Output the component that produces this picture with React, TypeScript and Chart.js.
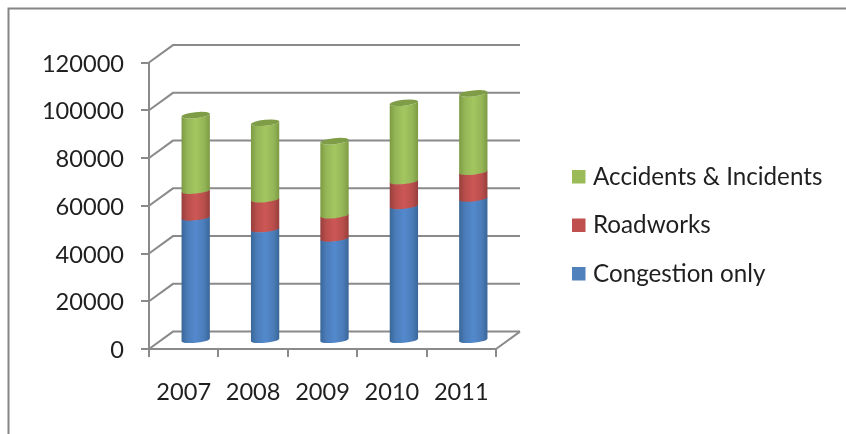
import React, { useEffect, useRef } from "react";
import { Chart, BarController, BarElement, registerables } from "chart.js";

const years = ["2007", "2008", "2009", "2010", "2011"];
const congestion = [51500, 46600, 42700, 56300, 59400];
const roadworks = [11200, 12500, 9700, 10400, 11200];
const accidents = [31600, 32000, 31000, 32800, 32800];

const BLUE = "#4f81bd";
const RED = "#c0504d";
const GREEN = "#9bbb59";
const AXIS_GREY = "#8a8a8a";
const TEXT = "#1f1f1f";
const FONT_FAMILY = "Lato";
const FONT_SIZE = 23.6;
const KEY_FONT_SIZE = 24.2;

// Edge, shoulder and centre tones of the cylinder shading for each series colour.
const SHADES: Record<string, string[]> = {
  [BLUE]: ["#3a6698", "#4a7cb8", "#5389cd"],
  [RED]: ["#963e3c", "#b84e4b", "#cc5755"],
  [GREEN]: ["#7c9a43", "#95b657", "#a4c660"],
};
const CAP_COLOR = "#7f9c46";

// Oblique depth of the floor and back wall.
const DEPTH_X = 24;
const DEPTH_Y = -17.4;
const CAP_RY = 3;
const CAP_TILT = -0.1;

class CylinderBar extends BarElement {
  static id = "cylinderBar";

  draw(ctx: CanvasRenderingContext2D) {
    const { x, y, base, width } = (this as any).getProps(["x", "y", "base", "width"]);
    const rx = width / 2;
    const tones = SHADES[(this as any).options.backgroundColor];
    const shade = ctx.createLinearGradient(x - rx, 0, x + rx, 0);
    shade.addColorStop(0, tones[0]);
    shade.addColorStop(0.2, tones[1]);
    shade.addColorStop(0.5, tones[2]);
    shade.addColorStop(0.8, tones[1]);
    shade.addColorStop(1, tones[0]);

    ctx.save();
    ctx.translate(DEPTH_X / 2, DEPTH_Y / 2);
    ctx.fillStyle = shade;
    ctx.beginPath();
    ctx.ellipse(x, base + 0.5, rx, CAP_RY, CAP_TILT, 0, Math.PI, false);
    ctx.ellipse(x, y, rx, CAP_RY, CAP_TILT, Math.PI, 0, true);
    ctx.closePath();
    ctx.fill();
    ctx.restore();
  }

  drawCap(ctx: CanvasRenderingContext2D) {
    const { x, y, width } = (this as any).getProps(["x", "y", "width"]);
    ctx.save();
    ctx.translate(DEPTH_X / 2, DEPTH_Y / 2);
    ctx.fillStyle = CAP_COLOR;
    ctx.beginPath();
    ctx.ellipse(x, y, width / 2, CAP_RY, CAP_TILT, 0, Math.PI * 2);
    ctx.fill();
    ctx.restore();
  }
}

class CylinderController extends BarController {
  static id = "cylinderBar";
  static defaults = { dataElementType: "cylinderBar" };
}

Chart.register(...registerables, CylinderBar, CylinderController);

// Outer frame: only the top and left edges are visible on the page.
const framePlugin = {
  id: "frame",
  beforeDraw(chart: any) {
    const { ctx, width, height } = chart;
    ctx.save();
    ctx.strokeStyle = "#868686";
    ctx.lineWidth = 2;
    ctx.beginPath();
    ctx.moveTo(8.5, height);
    ctx.lineTo(8.5, 8.5);
    ctx.lineTo(width, 8.5);
    ctx.stroke();
    ctx.restore();
  },
};

// Back wall gridlines, their diagonal returns to the front axis, and the floor edge.
const wallPlugin = {
  id: "wall",
  beforeDatasetsDraw(chart: any) {
    const { ctx, scales } = chart;
    const { left, right } = chart.chartArea;
    ctx.save();
    ctx.strokeStyle = AXIS_GREY;
    ctx.lineWidth = 2;
    for (const tick of scales.y.ticks) {
      const py = scales.y.getPixelForValue(tick.value);
      ctx.beginPath();
      ctx.moveTo(left, py);
      ctx.lineTo(left + DEPTH_X, py + DEPTH_Y);
      ctx.lineTo(right + DEPTH_X, py + DEPTH_Y);
      ctx.stroke();
    }
    const floor = scales.y.getPixelForValue(0);
    ctx.beginPath();
    ctx.moveTo(right, floor);
    ctx.lineTo(right + DEPTH_X, floor + DEPTH_Y);
    ctx.stroke();
    ctx.restore();
  },
  afterDatasetsDraw(chart: any) {
    const last = chart.data.datasets.length - 1;
    for (const bar of chart.getDatasetMeta(last).data) bar.drawCap(chart.ctx);
  },
};

// Right-hand key, listed from the top of the stack downwards.
const keyPlugin = {
  id: "key",
  afterDraw(chart: any) {
    const { ctx } = chart;
    const entries = [...chart.data.datasets].reverse();
    ctx.save();
    ctx.font = `${KEY_FONT_SIZE}px ${FONT_FAMILY}`;
    ctx.textBaseline = "middle";
    entries.forEach((ds: any, i: number) => {
      const cy = 176.5 + i * 48.5;
      ctx.fillStyle = ds.backgroundColor;
      ctx.fillRect(572, cy - 6.5, 13.5, 13.5);
      ctx.fillStyle = TEXT;
      ctx.fillText(ds.label, 593, cy + 0.5);
    });
    ctx.restore();
  },
};

export default function App() {
  const ref = useRef<HTMLCanvasElement>(null);

  useEffect(() => {
    const axisFont = { family: FONT_FAMILY, size: FONT_SIZE };
    const chart = new Chart(ref.current!, {
      type: "cylinderBar" as any,
      data: {
        labels: years,
        datasets: [
          { label: "Congestion only", data: congestion, backgroundColor: BLUE },
          { label: "Roadworks", data: roadworks, backgroundColor: RED },
          { label: "Accidents & Incidents", data: accidents, backgroundColor: GREEN },
        ],
      },
      options: {
        responsive: false,
        animation: false,
        layout: { padding: { top: 62.5, right: 350, bottom: 0, left: 0 } },
        datasets: { cylinderBar: { categoryPercentage: 1, barPercentage: 0.41, clip: false } } as any,
        plugins: { legend: { display: false }, tooltip: { enabled: false } },
        scales: {
          x: {
            stacked: true,
            afterFit: (scale: any) => {
              scale.height = 85;
            },
            border: { color: AXIS_GREY, width: 2 },
            grid: { drawOnChartArea: false, color: AXIS_GREY, lineWidth: 2, tickLength: 8 },
            ticks: { color: TEXT, font: axisFont, padding: 21, maxRotation: 0 },
          },
          y: {
            stacked: true,
            min: 0,
            max: 120000,
            afterFit: (scale: any) => {
              scale.width = 149;
            },
            border: { color: AXIS_GREY, width: 2 },
            grid: { drawOnChartArea: false, color: AXIS_GREY, lineWidth: 2, tickLength: 8 },
            ticks: {
              color: TEXT,
              font: axisFont,
              padding: 17,
              stepSize: 20000,
              labelOffset: 1.5,
              callback: (value: any) => String(value),
            },
          },
        },
      },
      plugins: [framePlugin, wallPlugin, keyPlugin],
    } as any);
    return () => chart.destroy();
  }, []);

  return (
    <canvas
      ref={ref}
      width={846}
      height={434}
      style={{ position: "absolute", left: 0, top: 0, display: "block" }}
    />
  );
}
